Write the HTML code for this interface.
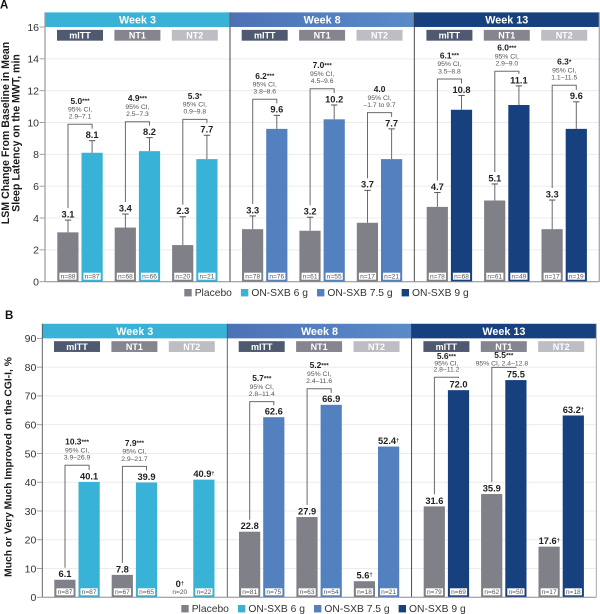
<!DOCTYPE html>
<html>
<head>
<meta charset="utf-8">
<style>
html,body{margin:0;padding:0;background:#fff;width:600px;height:614px;overflow:hidden}
svg{display:block;font-family:"Liberation Sans",sans-serif}
</style>
</head>
<body>
<svg id="chart" xmlns="http://www.w3.org/2000/svg" width="600" height="614" viewBox="0 0 600 614"></svg>
<script>
const weeks = ['Week 3', 'Week 8', 'Week 13'];
const populations = ['mITT', 'NT1', 'NT2'];
const legendLabels = ['Placebo', 'ON-SXB 6 g', 'ON-SXB 7.5 g', 'ON-SXB 9 g'];

const ticksA = [0, 2, 4, 6, 8, 10, 12, 14, 16];
const placeboA = [3.1, 3.4, 2.3, 3.3, 3.2, 3.7, 4.7, 5.1, 3.3];
const activeA = [8.1, 8.2, 7.7, 9.6, 10.2, 7.7, 10.8, 11.1, 9.6];
const placeboUpperA = [3.87, 4.25, 4.08, 4.13, 4.05, 5.74, 5.6, 6.14, 5.13];
const activeUpperA = [8.86, 9.05, 9.2, 10.45, 11.1, 9.6, 11.7, 12.3, 11.3];
const nPlaceboA = [88, 68, 20, 78, 61, 17, 78, 61, 17];
const nActiveA = [87, 66, 21, 76, 55, 21, 68, 49, 19];
const statsA = ['5.0***', '4.9***', '5.3*', '6.2***', '7.0***', '4.0', '6.1***', '6.0***', '6.3*'];
const ciA = ['2.9–7.1', '2.5–7.3', '0.9–9.8', '3.8–8.6', '4.5–9.6', '–1.7 to 9.7', '3.5–8.8', '2.9–9.0', '1.1–11.5'];
const bracketLevelA = [9.89, 10.05, 10.2, 11.46, 12.12, 10.62, 12.73, 13.22, 12.34];

const ticksB = [0, 10, 20, 30, 40, 50, 60, 70, 80, 90];
const placeboB = [6.1, 7.8, 0, 22.8, 27.9, 5.6, 31.6, 35.9, 17.6];
const activeB = [40.1, 39.9, 40.9, 62.6, 66.9, 52.4, 72.0, 75.5, 63.2];
const placeboDaggerB = [false, false, true, false, false, true, false, false, true];
const activeDaggerB = [false, false, true, false, false, true, false, false, true];
const nPlaceboB = [87, 67, 20, 81, 63, 18, 79, 62, 17];
const nActiveB = [87, 65, 22, 75, 54, 21, 69, 50, 18];
const statsB = ['10.3***', '7.9***', '', '5.7***', '5.2***', '', '5.6***', '5.5***', ''];
const ciB = ['3.9–26.9', '2.9–21.7', '', '2.8–11.4', '2.4–11.6', '', '2.8–11.2', '2.4–12.8', ''];
const bracketLevelB = [45.9, 45.5, null, 68, 72.5, null, 76.5, 79.9, null];

const svg = document.getElementById('chart');
const NS = 'http://www.w3.org/2000/svg';
const PLACEBO = '#808088';
const weekColors = ['#38b2d6', '#5381bf', '#17407f'];
const popColors = ['#4f5a70', '#85858f', '#bdbdc4'];

function add(parent, tag, attrs, text) {
  const el = document.createElementNS(NS, tag);
  for (const k in attrs) el.setAttribute(k, attrs[k]);
  if (text !== undefined) el.textContent = text;
  parent.appendChild(el);
  return el;
}

const defs = add(svg, 'defs', {});
const grad = add(defs, 'linearGradient', {id: 'week8grad', x1: 0, x2: 1, y1: 0, y2: 0});
add(grad, 'stop', {offset: '0', 'stop-color': '#4c72b6'});
add(grad, 'stop', {offset: '1', 'stop-color': '#5a8ac8'});

function statText(parent, x, y, str) {
  const m = str.match(/^([^*]*)(\*+)?$/);
  const t = add(parent, 'text', {x: x, y: y, 'text-anchor': 'middle', 'font-size': 8.4, 'font-weight': 'bold', fill: '#222'});
  
  
  add(t, 'tspan', {}, m[1]);
  if (m[2]) add(t, 'tspan', {'font-size': 6.4, dy: -0.8}, m[2]);
}

function drawPanel(p) {
  const panel = add(svg, 'g', {});
  
  

  const y = v => p.zeroY - v * p.pxPerUnit;
  const topY = y(p.ticks[p.ticks.length - 1]);
  const groupX = i => p.firstBarX + Math.floor(i / 3) * 184.7 + (i % 3) * 57.4;
  const sepX = w => p.left + 185 * w - (w === 2 ? 0.7 : 0);

  const letter = add(panel, 'text', {x: p.letterX, y: p.letterY, 'font-size': 11.5, 'font-weight': 'bold', fill: '#111'}, p.letter);
  
  

  p.ticks.forEach(t => {
    if (t > 0 && t < p.ticks[p.ticks.length - 1]) {
      const g = add(panel, 'line', {x1: p.left, x2: p.right, y1: y(t), y2: y(t), stroke: '#ececec', 'stroke-width': 1});
      
      
    }
    const tk = add(panel, 'line', {x1: p.left - 5.5, x2: p.left, y1: y(t), y2: y(t), stroke: '#999', 'stroke-width': 0.9});
    
    
    const lb = add(panel, 'text', {x: p.left - 6, y: y(t) + 3.8, 'text-anchor': 'end', 'font-size': 10.5, fill: '#333'}, t);
    
    
  });

  const titleG = add(panel, 'g', {});
  
  
  p.title.forEach((line, i) => {
    const bx = p.titleX + i * 10.3;
    add(titleG, 'text', {x: bx, y: p.titleY, transform: 'rotate(-90 ' + bx + ' ' + p.titleY + ')', 'text-anchor': 'middle', 'font-size': p.titleSize, 'font-weight': 'bold', fill: '#1a1a1a'}, line);
  });

  weeks.forEach((w, wi) => {
    const x0 = sepX(wi), x1 = wi === 2 ? p.right : sepX(wi + 1);
    const fill = wi === 1 ? 'url(#week8grad)' : weekColors[wi];
    const hd = add(panel, 'rect', {x: x0, y: topY - 14.6, width: x1 - x0, height: 14.6, fill: fill});
    
    
    const ht = add(panel, 'text', {x: (x0 + x1) / 2, y: topY - 3.4, 'text-anchor': 'middle', 'font-size': 10.8, 'font-weight': 'bold', fill: '#fff'}, w);
    
    
  });

  [0, 1, 2, 3].forEach(i => {
    const x = i === 0 ? p.left : (i === 3 ? p.right : sepX(i));
    const col = i === 2 ? '#3a3a44' : (i === 3 ? '#a0a0a4' : (i === 1 && p.key === 'a' ? '#66666c' : (i === 0 && p.key === 'a' ? '#9a9a9e' : '#55555c')));
    const wd = i === 2 || p.key === 'b' ? 0.9 : 1.2;
    const ln = add(panel, 'line', {x1: x, x2: x, y1: topY - 14.6, y2: p.zeroY, stroke: col, 'stroke-width': wd});
    
    
  });

  p.placebo.forEach((pv, i) => {
    const wi = Math.floor(i / 3);
    const popI = i % 3;
    const av = p.active[i];
    const gx = groupX(i);
    const px = gx + 10.7, ax = gx + 34.8;
    const activeColor = weekColors[wi];

    const pill = add(panel, 'rect', {x: gx - 0.3, y: topY + p.pillOffset, width: 46, height: 10.8, fill: popColors[popI]});
    
    
    const pt = add(panel, 'text', {x: gx + 22.7, y: topY + p.pillOffset + 8.6, 'text-anchor': 'middle', 'font-size': 9, 'font-weight': 'bold', fill: '#fff'}, populations[popI]);
    
    

    const bp = add(panel, 'rect', {x: gx, y: y(pv), width: 21.2, height: p.zeroY - y(pv), fill: PLACEBO});
    
    
    const ba = add(panel, 'rect', {x: gx + 24.2, y: y(av), width: 21.2, height: p.zeroY - y(av), fill: activeColor});
    
    

    let pTop = y(pv), aTop = y(av);
    if (p.placeboUpper) {
      pTop = y(p.placeboUpper[i]);
      aTop = y(p.activeUpper[i]);
      [[px, y(pv), pTop], [ax, y(av), aTop]].forEach(e => {
        const st = add(panel, 'line', {x1: e[0], x2: e[0], y1: e[1], y2: e[2], stroke: '#6a6a70', 'stroke-width': 1});
        
        
        const cp = add(panel, 'line', {x1: e[0] - 3.2, x2: e[0] + 3.2, y1: e[2], y2: e[2], stroke: '#55555c', 'stroke-width': 1});
        
        
      });
    }

    const pDag = p.placeboDagger && p.placeboDagger[i];
    const aDag = p.activeDagger && p.activeDagger[i];
    const pLabelY = pv === 0 ? p.zeroY - 10.3 : pTop - 2.6;
    const tp = add(panel, 'text', {x: px, y: pLabelY, 'text-anchor': 'middle', 'font-size': 9.3, 'font-weight': 'bold', fill: '#222'}, pv === 0 ? '0' : pv.toFixed(1));
    
    
    if (pDag) add(tp, 'tspan', {'font-size': 5.5, dy: -2}, '†');
    const ta = add(panel, 'text', {x: ax, y: aTop - 2.6, 'text-anchor': 'middle', 'font-size': 9.3, 'font-weight': 'bold', fill: '#222'}, av.toFixed(1));
    
    
    if (aDag) add(ta, 'tspan', {'font-size': 5.5, dy: -2}, '†');

    [[px, p.nPlacebo[i], pv === 0], [ax, p.nActive[i], false]].forEach(n => {
      if (!n[2]) {
        const box = add(panel, 'rect', {x: n[0] - 8.6, y: p.zeroY - 9, width: 17.2, height: 7, fill: '#fff'});
        
        
      }
      const nt = add(panel, 'text', {x: n[0], y: p.zeroY - 3.3, 'text-anchor': 'middle', 'font-size': 6.6, fill: '#555'}, 'n=' + n[1]);
      
      
    });

    const level = p.bracket[i];
    if (level !== null) {
      const by = y(level);
      const pBottom = pTop - 12;
      const aBottom = Math.max(aTop - 12, by);
      const br = add(panel, 'path', {d: 'M' + px + ' ' + pBottom + 'V' + by + 'H' + ax + 'V' + aBottom, fill: 'none', stroke: '#6a6a70', 'stroke-width': 1});
      
      
      const cx = (px + ax) / 2;
      const stat = p.stats[i];
      if (p.key === 'b' && i === 7) {
        statText(panel, cx, by - 9.3, stat);
        const ci = add(panel, 'text', {x: cx - 2, y: by - 1.8, 'text-anchor': 'middle', 'font-size': 6.8, fill: '#555'}, '95% CI, ' + p.ci[i]);
        
        
      } else {
        const tight = (p.key === 'b' && i === 6) ? 2.5 : 0;
        statText(panel, cx, by - 20.5 + tight, stat);
        const c1 = add(panel, 'text', {x: cx, y: by - 12.8 + tight / 2, 'text-anchor': 'middle', 'font-size': 6.8, fill: '#555'}, '95% CI,');
        
        
        const c2 = add(panel, 'text', {x: cx, y: by - 5.6, 'text-anchor': 'middle', 'font-size': 6.8, fill: '#555'}, p.ci[i]);
        
        
      }
    }
  });

  const base = add(panel, 'line', {x1: p.left, x2: p.right, y1: p.zeroY, y2: p.zeroY, stroke: '#8a8a90', 'stroke-width': 1});
  
  

  const legend = add(panel, 'g', {});
  
  
  let lx = p.legendX;
  const legendColors = [PLACEBO, weekColors[0], weekColors[1], weekColors[2]];
  legendLabels.forEach((name, i) => {
    const sw = add(legend, 'rect', {x: lx, y: p.legendY - 3.7, width: 7.4, height: 7.4, fill: legendColors[i]});
    
    
    const tx = add(legend, 'text', {x: lx + 10.4, y: p.legendY + 3.5, 'font-size': 10.3, fill: '#333'}, name);
    
    
    lx += 10.4 + tx.getComputedTextLength() + 9;
  });
}

drawPanel({
  key: 'a', letter: 'A', letterX: 0, letterY: 8.5,
  left: 45, right: 599.3, zeroY: 281.7, pxPerUnit: 15.92, firstBarX: 57.3, pillOffset: 2.9,
  ticks: ticksA, placebo: placeboA, active: activeA,
  placeboUpper: placeboUpperA, activeUpper: activeUpperA,
  nPlacebo: nPlaceboA, nActive: nActiveA, stats: statsA, ci: ciA, bracket: bracketLevelA,
  title: ['LSM Change From Baseline in Mean', 'Sleep Latency on the MWT, min'], titleX: 9, titleY: 133, titleSize: 10.6,
  legendX: 184.3, legendY: 292.7
});

drawPanel({
  key: 'b', letter: 'B', letterX: 5, letterY: 319,
  left: 42.3, right: 596.3, zeroY: 597.3, pxPerUnit: 2.877, firstBarX: 54.3, pillOffset: 2.8,
  ticks: ticksB, placebo: placeboB, active: activeB,
  placeboDagger: placeboDaggerB, activeDagger: activeDaggerB,
  nPlacebo: nPlaceboB, nActive: nActiveB, stats: statsB, ci: ciB, bracket: bracketLevelB,
  title: ['Much or Very Much Improved on the CGI-I, %'], titleX: 11.5, titleY: 467, titleSize: 10.3,
  legendX: 181.3, legendY: 608.7
});
</script>
</body>
</html>
